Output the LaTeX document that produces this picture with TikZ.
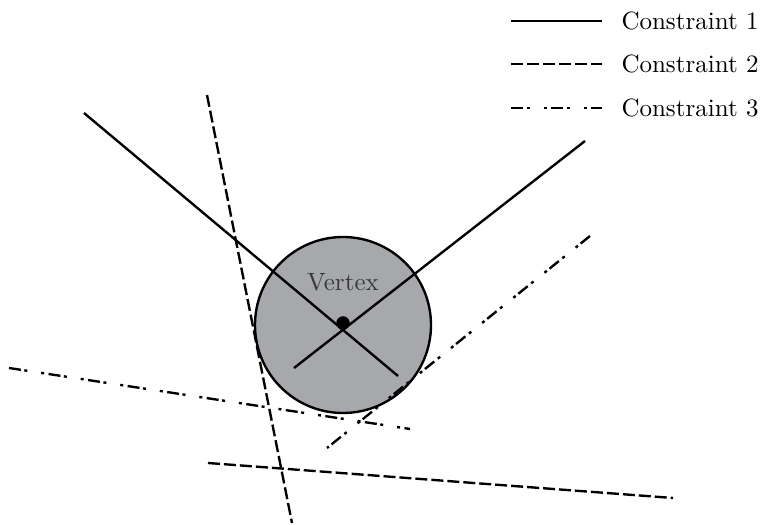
\documentclass[tikz,border=0pt]{standalone}
\usepackage{tikz}
\usetikzlibrary{positioning}
\definecolor{vtxfill}{HTML}{A7A8AB}
\definecolor{vtxtext}{gray}{0.22}
\tikzset{
  cline/.style    = {line width=0.95pt, black},
  conone/.style   = {cline},
  contwo/.style   = {cline, dash pattern=on 4.8pt off 1.6pt},
  conthree/.style = {cline, dash pattern=on 4.8pt off 1.4pt on 1.2pt off 5.6pt
                     on 1.2pt off 1.8pt},
  vtxdisk/.style  = {circle, draw=black, line width=0.95pt, fill=vtxfill,
                     minimum size=70.4pt, inner sep=0pt},
  vtxdot/.style   = {circle, fill=black, minimum size=5.4pt, inner sep=0pt},
  leglab/.style   = {anchor=west, inner sep=0pt},
}
\begin{document}
\begin{tikzpicture}[x=0.4pt, y=-0.4pt]
    \useasboundingbox (0,0) rectangle (768,525);
    % the vertex
    \node[vtxdisk] (vertex) at (343,325) {};
    \node[text=vtxtext] (vlabel) at (343,282) {Vertex};
    % end points of the constraints
    \coordinate (a1) at (84,113);   \coordinate (a2) at (398,376);
    \coordinate (b1) at (585,141);  \coordinate (b2) at (294,368);
    \coordinate (c1) at (207,95);   \coordinate (c2) at (292,523);
    \coordinate (d1) at (208,463);  \coordinate (d2) at (673,498);
    \coordinate (e1) at (9,368);    \coordinate (e2) at (410,429);
    \coordinate (f1) at (590,236);  \coordinate (f2) at (327,448);
    \draw[conone] (a1) -- (a2);
    \draw[conone] (b1) -- (b2);
    \draw[contwo] (c1) -- (c2);
    \draw[contwo] (d1) -- (d2);
    \draw[conthree] (e1) -- (e2);
    \draw[conthree] (f1) -- (f2);
    \node[vtxdot] (vdot) at (343,323) {};
    % legend
    \foreach \st/\nm/\y in {conone/1/21, contwo/2/64, conthree/3/108}{%
      \coordinate (l\nm a) at (511,\y);
      \coordinate (l\nm b) at (602,\y);
      \draw[\st] (l\nm a) -- (l\nm b);
      \node[leglab] (t\nm) at (621,\y) {Constraint \nm};}
\end{tikzpicture}
\end{document}
